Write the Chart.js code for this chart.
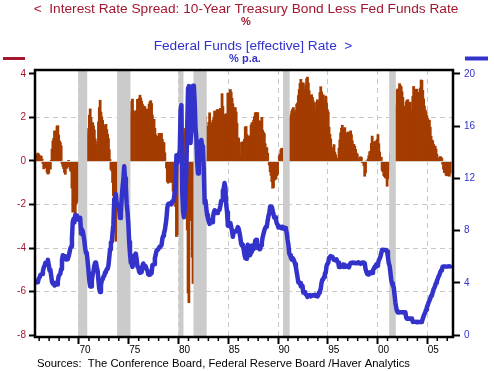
<!DOCTYPE html>
<html lang="en">
<head>
<meta charset="UTF-8">
<title>Interest Rate Spread and Fed Funds Rate</title>
<script src="https://cdn.jsdelivr.net/npm/chart.js"></script>
<style>
    body { margin: 0; background: #fff; }
    canvas { display: block; }
</style>
</head>
<body>
<canvas id="myChart" width="494" height="371"></canvas>
<script>
// monthly series, first value is Aug 1965, last is Apr 2007
const firstYear = 1965;
const firstMonth = 8;

// 10-year Treasury less fed funds, % (left axis)
const spread = [
    0.21, 0.20, 0.31, 0.36, 0.30,
    0.19, 0.23, 0.22, 0.08, -0.12, -0.36, -0.28, -0.31, -0.22, -0.52, -0.60, -0.56,
    -0.36, -0.37, 0.01, 0.54, 0.91, 1.04, 1.37, 1.38, 1.31, 1.60, 1.62, 1.19,
    0.92, 0.85, 0.69, -0.12, -0.24, -0.35, -0.52, -0.61, -0.32, -0.33, -0.12, 0.01,
    -0.26, -0.42, -0.49, -1.24, -2.35, -2.33, -1.89, -2.50, -1.99, -1.90, -1.71, -1.32,
    -1.18, -1.74, -0.69, -0.71, -0.04, 0.23, 0.25, 0.92, 1.10, 1.13, 1.24, 1.49,
    2.10, 2.39, 1.99, 1.67, 1.76, 1.61, 1.42, 1.02, 0.59, 0.73, 0.90, 1.79,
    2.45, 2.79, 2.24, 2.02, 1.86, 1.65, 1.56, 1.41, 1.68, 1.44, 1.22, 1.03,
    0.52, 0.06, -0.38, -0.45, -0.99, -1.59, -3.27, -3.10, -3.69, -3.22, -3.30, -3.21,
    -2.66, -2.01, -2.14, -3.00, -3.73, -4.39, -5.11, -3.97, -3.30, -2.16, -1.77, -1.10,
    0.37, 1.15, 2.19, 2.74, 2.84, 2.31, 1.96, 2.26, 2.19, 2.32, 2.83, 2.80,
    2.87, 3.02, 2.89, 2.74, 2.61, 2.38, 2.52, 2.48, 2.34, 2.38, 2.34, 2.22,
    2.60, 2.71, 2.77, 2.64, 2.11, 1.89, 1.91, 1.50, 1.20, 1.05, 1.07, 1.13,
    1.26, 1.25, 1.25, 1.26, 0.99, 0.86, 0.83, 0.37, -0.03, -0.32, -0.95, -1.02,
    -0.97, -0.96, -0.97, -0.83, -0.99, -1.38, -1.52, -1.91, -2.10, -3.47, -2.53, -3.39,
    -3.02, -1.72, -4.44, -6.14, -0.80, 0.31, 1.22, 1.49, 0.64, -1.06, -3.17, -6.06,
    -6.51, -2.74, -1.58, -2.04, -4.42, -5.63, -4.76, -2.88, -0.55, 0.07, 0.08, 1.35,
    1.37, -0.35, -0.82, -1.07, -0.83, 0.15, 1.36, 2.94, 2.03, 1.20, 1.35, 1.59,
    1.78, 2.21, 1.74, 1.60, 1.75, 1.87, 2.01, 2.29, 2.20, 2.06, 2.35, 2.36,
    2.11, 2.25, 2.41, 2.34, 3.09, 2.50, 2.13, 1.08, 1.22, 2.17, 2.14, 3.12,
    3.03, 3.01, 3.28, 3.16, 2.88, 2.63, 2.43, 2.43, 2.45, 2.25, 1.73, 0.99,
    1.05, 0.84, 0.30, 0.31, 0.86, 0.88, 0.74, 1.00, 1.56, 1.58, 1.21, 0.20,
    0.65, 1.15, 1.12, 1.65, 1.76, 1.67, 1.87, 2.03, 2.20, 2.23, 2.17, 2.22,
    1.84, 1.63, 1.79, 1.85, 2.00, 1.41, 1.31, 1.25, 0.79, 0.50, 0.61, 0.35,
    -0.03, -0.19, -0.49, -0.66, -0.95, -1.25, -1.22, -0.88, -0.83, -0.83, -0.68, -0.61,
    -0.02, 0.23, 0.31, 0.53, 0.58, 0.19, 0.32, 0.62, 0.69, 0.61, 0.58, 0.77,
    1.18, 1.60, 1.99, 2.13, 2.29, 2.38, 2.45, 2.24, 2.20, 2.32, 2.61, 2.66,
    3.00, 3.28, 3.56, 3.75, 3.57, 3.50, 3.59, 3.29, 3.20, 3.49, 3.78, 3.85,
    3.58, 3.23, 2.91, 3.01, 3.04, 2.92, 2.75, 2.65, 2.27, 2.34, 2.70, 2.81,
    2.70, 2.72, 3.14, 3.41, 3.17, 2.85, 3.04, 2.77, 2.73, 2.98, 2.67, 2.36,
    2.25, 1.55, 1.22, 1.01, 0.62, 0.17, 0.43, 0.75, 0.40, 0.28, 0.13, 0.11,
    0.09, 0.59, 0.96, 1.29, 1.50, 1.64, 1.47, 1.42, 1.53, 1.29, 0.89, 1.01,
    1.33, 1.23, 1.30, 1.38, 1.21, 0.93, 0.70, 0.76, 0.67, 0.53, 0.36, 0.31,
    -0.02, 0.06, 0.16, 0.19, 0.16, -0.06, -0.08, -0.21, -0.70, -0.54, 0.00, -0.03,
    0.09, 0.24, 0.42, 0.44, 0.80, 1.14, 0.80, 0.87, 0.70, 0.91, 0.61, 0.98,
    1.21, 0.79, 0.41, -0.03, 0.17, -0.43, -0.49, -0.67, -0.72, -0.77, -0.79, -1.16,
    -0.82, -0.39, -0.42, 0.34, 1.18, 1.31, 1.47, 1.32, 1.66, 2.08, 2.56, 3.27,
    3.31, 3.17, 3.55, 3.46, 3.41, 3.18, 2.92, 2.52, 2.12, 2.19, 2.71, 2.79,
    2.81, 2.64, 2.56, 2.70, 2.31, 2.11, 2.97, 3.42, 3.26, 3.28, 3.30, 3.29,
    3.15, 3.07, 2.83, 3.35, 3.72, 3.70, 3.24, 2.85, 2.52, 2.34, 2.26, 2.07,
    1.94, 1.67, 1.87, 1.55, 1.14, 0.96, 0.92, 0.76, 0.58, 0.68, 0.54, 0.31,
    0.13, 0.08, 0.13, 0.20, 0.17, 0.12, -0.15, -0.37, -0.53, -0.52, -0.65, -0.68,
    -0.49, -0.54, -0.70, -0.56
];

// federal funds effective rate, % p.a. (right axis)
const fedFunds = [
    4.04, 4.09, 4.04, 4.09, 4.32,
    4.42, 4.60, 4.65, 4.67, 4.90, 5.17, 5.30, 5.53, 5.40, 5.53, 5.76, 5.40,
    4.94, 5.00, 4.53, 4.05, 3.94, 3.98, 3.79, 3.90, 3.99, 3.88, 4.13, 4.51,
    4.61, 4.71, 5.05, 5.76, 6.11, 6.07, 6.02, 6.03, 5.78, 5.91, 5.82, 6.02,
    6.30, 6.61, 6.79, 7.41, 8.67, 8.90, 8.61, 9.19, 9.15, 9.00, 8.85, 8.97,
    8.98, 8.98, 7.76, 8.10, 7.95, 7.61, 7.21, 6.61, 6.29, 6.20, 5.60, 4.90,
    4.14, 3.72, 3.71, 4.16, 4.63, 4.91, 5.31, 5.56, 5.55, 5.20, 4.91, 4.14,
    3.50, 3.29, 3.83, 4.17, 4.27, 4.46, 4.55, 4.80, 4.87, 5.04, 5.06, 5.33,
    5.94, 6.58, 7.09, 7.12, 7.84, 8.49, 10.40, 10.50, 10.78, 10.01, 10.03, 9.95,
    9.65, 8.97, 9.35, 10.51, 11.31, 11.93, 12.92, 12.01, 11.34, 10.06, 9.45, 8.53,
    7.13, 6.24, 5.54, 5.49, 5.22, 5.55, 6.10, 6.14, 6.24, 5.82, 5.22, 5.20,
    4.87, 4.77, 4.84, 4.82, 5.29, 5.48, 5.31, 5.29, 5.25, 5.03, 4.95, 4.65,
    4.61, 4.68, 4.69, 4.73, 5.35, 5.39, 5.42, 5.90, 6.14, 6.47, 6.51, 6.56,
    6.70, 6.78, 6.79, 6.89, 7.36, 7.60, 7.81, 8.04, 8.45, 8.96, 9.76, 10.03,
    10.07, 10.06, 10.09, 10.01, 10.24, 10.29, 10.47, 10.94, 11.43, 13.77, 13.18, 13.78,
    13.82, 14.13, 17.19, 17.61, 10.98, 9.47, 9.03, 9.61, 10.87, 12.81, 15.85, 18.90,
    19.08, 15.93, 14.70, 15.72, 18.52, 19.10, 19.04, 17.82, 15.87, 15.08, 13.31, 12.37,
    13.22, 14.78, 14.68, 14.94, 14.45, 14.15, 12.59, 10.12, 10.31, 9.71, 9.20, 8.95,
    8.68, 8.51, 8.77, 8.80, 8.63, 8.98, 9.37, 9.56, 9.45, 9.48, 9.34, 9.47,
    9.56, 9.59, 9.91, 10.29, 10.32, 11.06, 11.23, 11.64, 11.30, 9.99, 9.43, 8.38,
    8.35, 8.50, 8.58, 8.27, 7.97, 7.53, 7.88, 7.90, 7.92, 7.99, 8.05, 8.27,
    8.14, 7.86, 7.48, 6.99, 6.85, 6.92, 6.56, 6.17, 5.89, 5.85, 6.04, 6.91,
    6.43, 6.10, 6.13, 6.37, 6.85, 6.73, 6.58, 6.73, 7.22, 7.29, 6.69, 6.77,
    6.83, 6.58, 6.58, 6.87, 7.09, 7.51, 7.75, 8.01, 8.19, 8.30, 8.35, 8.76,
    9.12, 9.36, 9.85, 9.84, 9.81, 9.53, 9.24, 8.99, 9.02, 8.84, 8.55, 8.45,
    8.23, 8.24, 8.28, 8.26, 8.18, 8.29, 8.15, 8.13, 8.20, 8.11, 7.81, 7.31,
    6.91, 6.25, 6.12, 5.91, 5.78, 5.90, 5.82, 5.66, 5.45, 5.21, 4.81, 4.43,
    4.03, 4.06, 3.98, 3.73, 3.82, 3.76, 3.25, 3.30, 3.22, 3.10, 3.09, 2.92,
    3.02, 3.03, 3.07, 2.96, 3.00, 3.04, 3.06, 3.03, 3.09, 2.99, 3.02, 2.96,
    3.05, 3.25, 3.34, 3.56, 4.01, 4.25, 4.26, 4.47, 4.73, 4.76, 5.29, 5.45,
    5.53, 5.92, 5.98, 6.05, 6.01, 6.00, 5.85, 5.74, 5.80, 5.76, 5.80, 5.60,
    5.56, 5.22, 5.31, 5.22, 5.24, 5.27, 5.40, 5.22, 5.30, 5.24, 5.31, 5.29,
    5.25, 5.19, 5.39, 5.51, 5.50, 5.56, 5.52, 5.54, 5.54, 5.50, 5.52, 5.50,
    5.56, 5.51, 5.49, 5.45, 5.49, 5.56, 5.54, 5.55, 5.51, 5.07, 4.83, 4.68,
    4.63, 4.76, 4.81, 4.74, 4.74, 4.76, 4.99, 5.07, 5.22, 5.20, 5.42, 5.30,
    5.45, 5.73, 5.85, 6.02, 6.27, 6.53, 6.54, 6.50, 6.52, 6.51, 6.51, 6.40,
    5.98, 5.49, 5.31, 4.80, 4.21, 3.97, 3.77, 3.65, 3.07, 2.49, 2.09, 1.82,
    1.73, 1.74, 1.73, 1.75, 1.75, 1.75, 1.73, 1.74, 1.75, 1.75, 1.34, 1.24,
    1.24, 1.26, 1.25, 1.26, 1.26, 1.22, 1.01, 1.03, 1.01, 1.01, 1.00, 0.98,
    1.00, 1.01, 1.00, 1.00, 1.00, 1.03, 1.26, 1.43, 1.61, 1.76, 1.93, 2.16,
    2.28, 2.50, 2.63, 2.79, 3.00, 3.04, 3.26, 3.50, 3.62, 3.78, 4.00, 4.16,
    4.29, 4.49, 4.59, 4.79, 4.94, 4.99, 5.24, 5.25, 5.25, 5.25, 5.25, 5.24,
    5.25, 5.26, 5.26, 5.25
];

// recession periods (start, end) as decimal years
const recessions = [
    [1969.92, 1970.83],
    [1973.83, 1975.17],
    [1980.00, 1980.50],
    [1981.50, 1982.83],
    [1990.50, 1991.17],
    [2001.17, 2001.83]
];

const leftTicks = [-8, -6, -4, -2, 0, 2, 4];
const rightTicks = [0, 4, 8, 12, 16, 20];
const labelYears = [1970, 1975, 1980, 1985, 1990, 1995, 2000, 2005];
const yearLabels = ['70', '75', '80', '85', '90', '95', '00', '05'];

const red = '#a3172f';
const blue = '#3333cc';
const font = '"Liberation Sans", Arial, sans-serif';

function monthPos(i) {
    return firstYear + (firstMonth - 1 + i + 0.5) / 12;
}

const decor = {
    id: 'decor',
    beforeDraw(chart) {
        const ctx = chart.ctx;
        ctx.save();
        ctx.fillStyle = '#fff';
        ctx.fillRect(0, 0, chart.width, chart.height);
        ctx.restore();
    },
    afterDatasetDraw(chart, args) {
        if (args.index !== 0) return;
        const ctx = chart.ctx;
        const area = chart.chartArea;
        const x = chart.scales.x;
        const y = chart.scales.y;
        ctx.save();
        // zero line
        ctx.strokeStyle = '#d9cfc8';
        ctx.lineWidth = 1;
        ctx.beginPath();
        ctx.moveTo(area.left, Math.round(y.getPixelForValue(0)) + 0.5);
        ctx.lineTo(area.right, Math.round(y.getPixelForValue(0)) + 0.5);
        ctx.stroke();
        // recession shading
        ctx.fillStyle = '#cbcbcb';
        recessions.forEach(r => {
            const x0 = x.getPixelForValue(r[0]);
            const x1 = x.getPixelForValue(r[1]);
            ctx.fillRect(x0, area.top, x1 - x0, area.bottom - area.top);
        });
        ctx.restore();
    },
    afterDraw(chart) {
        const ctx = chart.ctx;
        const area = chart.chartArea;
        const x = chart.scales.x;
        ctx.save();
        // frame
        ctx.strokeStyle = '#000';
        ctx.lineWidth = 2.5;
        ctx.strokeRect(area.left, area.top, area.right - area.left, area.bottom - area.top);
        // minor year ticks
        ctx.lineWidth = 1.5;
        for (let yr = 1966; yr <= 2007; yr++) {
            if (yr % 5 === 0) continue;
            const px = x.getPixelForValue(yr);
            ctx.beginPath();
            ctx.moveTo(px, area.bottom);
            ctx.lineTo(px, area.bottom + 4);
            ctx.stroke();
        }
        // headings
        ctx.textAlign = 'center';
        ctx.textBaseline = 'middle';
        ctx.fillStyle = red;
        ctx.font = '13.7px ' + font;
        ctx.fillText('<  Interest Rate Spread: 10-Year Treasury Bond Less Fed Funds Rate', 246, 9);
        ctx.font = 'bold 11px ' + font;
        ctx.fillText('%', 246, 22);
        ctx.fillStyle = blue;
        ctx.font = '13.7px ' + font;
        ctx.fillText('Federal Funds [effective] Rate  >', 253, 46);
        ctx.font = 'bold 11px ' + font;
        ctx.fillText('% p.a.', 245, 59);
        // legend keys
        ctx.lineWidth = 3;
        ctx.strokeStyle = red;
        ctx.beginPath();
        ctx.moveTo(3, 58.5);
        ctx.lineTo(25, 58.5);
        ctx.stroke();
        ctx.lineWidth = 4;
        ctx.strokeStyle = blue;
        ctx.beginPath();
        ctx.moveTo(465, 58.5);
        ctx.lineTo(488, 58.5);
        ctx.stroke();
        // source
        ctx.textAlign = 'left';
        ctx.fillStyle = '#000';
        ctx.font = '11.3px ' + font;
        ctx.fillText('Sources:  The Conference Board, Federal Reserve Board /Haver Analytics', 37, 364);
        ctx.restore();
    }
};

const ctx = document.getElementById('myChart').getContext('2d');
const myChart = new Chart(ctx, {
    type: 'bar',
    data: {
        datasets: [{
            type: 'bar',
            data: spread.map((v, i) => ({ x: monthPos(i), y: v })),
            backgroundColor: '#a43c00',
            borderWidth: 0,
            barThickness: 2,
            categoryPercentage: 1,
            barPercentage: 1,
            grouped: false,
            inflateAmount: 0.4,
            yAxisID: 'y',
            order: 2
        }, {
            type: 'line',
            data: fedFunds.map((v, i) => ({ x: monthPos(i), y: v })),
            borderColor: blue,
            borderWidth: 4.5,
            borderJoinStyle: 'round',
            borderCapStyle: 'round',
            pointRadius: 0,
            tension: 0,
            yAxisID: 'y1',
            order: 1
        }]
    },
    options: {
        responsive: false,
        animation: false,
        devicePixelRatio: 1,
        layout: { padding: { top: 70, bottom: 14, left: 0, right: 0 } },
        plugins: { legend: { display: false }, tooltip: { enabled: false } },
        scales: {
            x: {
                type: 'linear',
                min: 1965.58,
                max: 2007.58,
                offset: false,
                afterBuildTicks: s => { s.ticks = []; for (let yr = 1966; yr <= 2007; yr++) s.ticks.push({ value: yr }); },
                afterFit: s => { s.height = 20; },
                border: { display: false, dash: [5, 4] },
                grid: {
                    offset: false,
                    color: c => (c.tick && c.tick.value % 5 === 0) ? '#c8c8c8' : 'rgba(0,0,0,0)',
                    lineWidth: 1,
                    tickLength: 7,
                    tickWidth: 2,
                    tickBorderDash: [],
                    tickColor: c => (c.tick && c.tick.value % 5 === 0) ? '#000' : 'rgba(0,0,0,0)'
                },
                ticks: {
                    autoSkip: false,
                    maxRotation: 0,
                    padding: 0,
                    labelOffset: 6,
                    color: '#000',
                    font: { family: font, size: 10 },
                    callback: v => { const k = labelYears.indexOf(v); return k >= 0 ? yearLabels[k] : ''; }
                }
            },
            y: {
                type: 'linear',
                position: 'left',
                min: -8.09,
                max: 4.18,
                afterBuildTicks: s => { s.ticks = leftTicks.map(v => ({ value: v })); },
                afterFit: s => { s.width = 35; },
                border: { display: false, dash: [5, 4] },
                grid: {
                    color: c => (c.tick && [-6, -4, -2, 2].includes(c.tick.value)) ? '#c8c8c8' : 'rgba(0,0,0,0)',
                    lineWidth: 1,
                    tickLength: 6,
                    tickWidth: 2,
                    tickBorderDash: [],
                    tickColor: '#000'
                },
                ticks: {
                    padding: 3,
                    color: red,
                    font: { family: font, size: 10 }
                }
            },
            y1: {
                type: 'linear',
                position: 'right',
                min: -0.15,
                max: 20.3,
                afterBuildTicks: s => { s.ticks = rightTicks.map(v => ({ value: v })); },
                afterFit: s => { s.width = 41; },
                border: { display: false },
                grid: {
                    drawOnChartArea: false,
                    tickLength: 7,
                    tickWidth: 2,
                    tickColor: '#000'
                },
                ticks: {
                    padding: 4,
                    color: blue,
                    font: { family: font, size: 10 }
                }
            }
        }
    },
    plugins: [decor]
});
</script>
</body>
</html>
